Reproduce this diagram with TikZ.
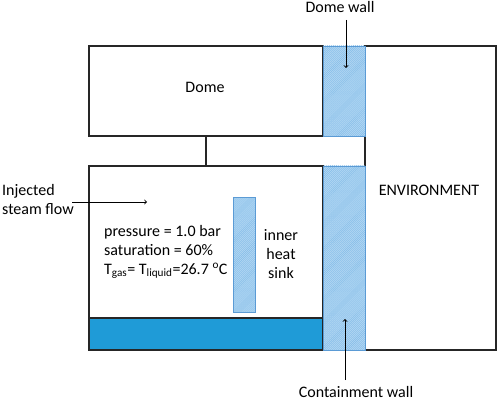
\documentclass[tikz,border=0pt]{standalone}
\usepackage{fontspec}
\setmainfont{Carlito}
\usepackage{xcolor}
\usepackage{tikz}
\usetikzlibrary{patterns.meta}

\definecolor{wallblue}{HTML}{B2D8F4}
\definecolor{hatchblue}{HTML}{86BDE8}
\definecolor{edgeblue}{HTML}{5B9BD5}
\definecolor{waterblue}{HTML}{1F9BD7}

\begin{document}
\begin{tikzpicture}
    [x=1pt, y=-1pt, font=\fontsize{16}{19}\selectfont,
     Box/.style={rectangle, draw=black!85, line width=1.1pt, inner sep=0pt, outer sep=0pt},
     Wall/.style={rectangle, draw=edgeblue, line width=0.8pt, inner sep=0pt, outer sep=0pt,
        preaction={fill=wallblue},
        pattern={Lines[angle=45, distance=1.4pt, line width=0.4pt]}, pattern color=hatchblue},
     Label/.style={inner sep=0pt},
     Arrow/.style={->, line width=0.9pt}]
	\useasboundingbox (0,0) rectangle (498,401);
	% boxes
	\node[Box, minimum width=131pt, minimum height=304pt] (E-Box) at (430.5, 198) {};
	\node[Box, minimum width=234pt, minimum height=90pt] (D-Box) at (206, 91) {};
	\node[Box, minimum width=234pt, minimum height=184pt] (C-Box) at (206, 258) {};
	\node[Box, fill=waterblue, minimum width=234pt, minimum height=32pt] (C-Water) at (206, 334) {};
	\node[Wall, minimum width=42pt, minimum height=90pt] (D-Wall) at (344, 91) {};
	\node[Wall, minimum width=42pt, minimum height=184pt] (C-Wall) at (344, 258) {};
	\node[Wall, minimum width=22pt, minimum height=115pt] (C-Sink) at (244, 254.5) {};
	\draw[line width=1.1pt, black!85] (D-Box.south) -- (C-Box.north);
	% labels
	\node[Label, anchor=base] (D-Label) at (205, 93) {Dome};
	\node[Label, anchor=base] (E-Label) at (429, 195) {ENVIRONMENT};
	\node[Label, anchor=north west, align=left] (C-Steam) at (2, 184) {Injected\\steam flow};
	\node[Label, anchor=north west, align=left] (C-State) at (104, 225)
		{pressure = 1.0 bar\\saturation = 60\%\\T\textsubscript{gas}= T\textsubscript{liquid}=26.7 \textsuperscript{o}C};
	\node[Label, anchor=north, align=center] (C-SinkLabel) at (281, 229) {inner\\heat\\sink};
	\node[Label, anchor=base] (D-WallLabel) at (340, 12.5) {Dome wall};
	\node[Label, anchor=base] (C-WallLabel) at (356, 397) {Containment wall};
	% arrows
	\coordinate (D-WallFrom) at (346, 20);
	\coordinate (D-WallTo) at (346, 68);
	\coordinate (C-WallFrom) at (345, 380);
	\coordinate (C-WallTo) at (345, 319);
	\coordinate (C-SteamFrom) at (72, 202);
	\coordinate (C-SteamTo) at (147, 202);
	\draw[Arrow] (D-WallFrom) -- (D-WallTo);
	\draw[Arrow] (C-WallFrom) -- (C-WallTo);
	\draw[Arrow] (C-SteamFrom) -- (C-SteamTo);
\end{tikzpicture}
\end{document}
